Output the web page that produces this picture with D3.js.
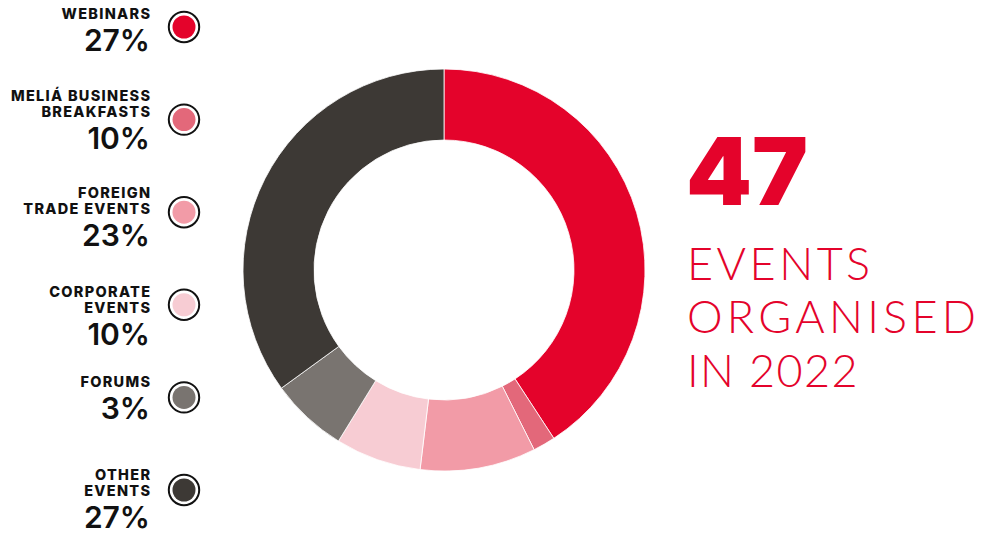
<!DOCTYPE html>
<html>
<head>
<meta charset="utf-8">
<script src="https://cdn.jsdelivr.net/npm/d3@7"></script>
<style>
  html, body { margin: 0; padding: 0; background: #fff; }
  svg { display: block; }
</style>
</head>
<body>
<div id="chart"></div>
<script>
// legend categories, one entry per slice
let labelLines = [
    ["WEBINARS"],
    ["MELIÁ BUSINESS", "BREAKFASTS"],
    ["FOREIGN", "TRADE EVENTS"],
    ["CORPORATE", "EVENTS"],
    ["FORUMS"],
    ["OTHER", "EVENTS"]
];
// percentages printed in the legend
let legendPct = [27, 10, 23, 10, 3, 27];
// slice sizes as drawn in the ring (share of the circle, %)
let arcShare = [40.8, 1.8, 9.3, 6.9, 6.2, 35.0];
let colors = ["#e4032b", "#e3687a", "#f29ba7", "#f7ccd3", "#797470", "#3d3935"];

let totalEvents = 47;
let headline = ["EVENTS", "ORGANISED", "IN 2022"];

let width = 985, height = 535;
let svg = d3.select("#chart").append("svg")
    .attr("width", width)
    .attr("height", height);

// donut
let cx = 444, cy = 270;
let outerR = 201, innerR = 130;

let pie = d3.pie().sort(null).value(function(d) { return d; });
let arc = d3.arc().innerRadius(innerR).outerRadius(outerR);

svg.append("g")
    .attr("transform", "translate(" + cx + "," + cy + ")")
    .selectAll("path")
    .data(pie(arcShare))
    .enter().append("path")
    .attr("d", arc)
    .attr("fill", function(d, i) { return colors[i]; })
    .attr("stroke", "#fff")
    .attr("stroke-width", 0.8);

// legend
let y = d3.scalePoint()
    .domain(d3.range(labelLines.length))
    .range([27, 490]);
let blockShift = [3, 0, 5, 11, 0, 9];
let lineGap = 16, pctGap = 32, capH = 10.5;
let spacing = 1.3;

let legend = svg.append("g")
    .selectAll("g")
    .data(labelLines)
    .enter().append("g");

legend.append("circle")
    .attr("cx", 184)
    .attr("cy", function(d, i) { return y(i); })
    .attr("r", 15.2)
    .attr("fill", "#fff")
    .attr("stroke", "#111")
    .attr("stroke-width", 2);

legend.append("circle")
    .attr("cx", 184)
    .attr("cy", function(d, i) { return y(i); })
    .attr("r", 11.5)
    .attr("fill", function(d, i) { return colors[i]; });

legend.each(function(lines, i) {
    let g = d3.select(this);
    let span = lineGap * (lines.length - 1) + pctGap;
    let mid = y(i) + blockShift[i];
    let first = mid - (span - capH) / 2;

    g.append("text")
        .attr("text-anchor", "end")
        .attr("font-family", "Inter, 'DejaVu Sans', sans-serif")
        .attr("font-weight", 800)
        .attr("font-size", "14.5px")
        .attr("letter-spacing", spacing)
        .attr("fill", "#111")
        .selectAll("tspan")
        .data(lines)
        .enter().append("tspan")
        .attr("x", 150 + spacing)
        .attr("y", function(d, j) { return first + j * lineGap; })
        .text(function(d) { return d; });

    g.append("text")
        .attr("text-anchor", "end")
        .attr("x", 150)
        .attr("y", first + span)
        .attr("font-family", "Inter, 'DejaVu Sans', sans-serif")
        .attr("font-weight", 600)
        .attr("font-size", "30px")
        .attr("fill", "#111")
        .text(legendPct[i] + "%");
});

// headline on the right
svg.append("text")
    .attr("x", 686)
    .attr("y", 205)
    .attr("font-family", "Inter, 'DejaVu Sans', sans-serif")
    .attr("font-weight", 900)
    .attr("font-size", "94px")
    .attr("fill", "#e4032b")
    .text(totalEvents);

let headSpacing = [3.5, 4.2, 1.4];
svg.append("text")
    .attr("font-family", "Lato, 'Open Sans', sans-serif")
    .attr("font-weight", 300)
    .attr("font-size", "45px")
    .attr("fill", "#e4032b")
    .selectAll("tspan")
    .data(headline)
    .enter().append("tspan")
    .attr("x", 687)
    .attr("y", function(d, i) { return 280 + i * 53.3; })
    .attr("letter-spacing", function(d, i) { return headSpacing[i]; })
    .text(function(d) { return d; });
</script>
</body>
</html>
